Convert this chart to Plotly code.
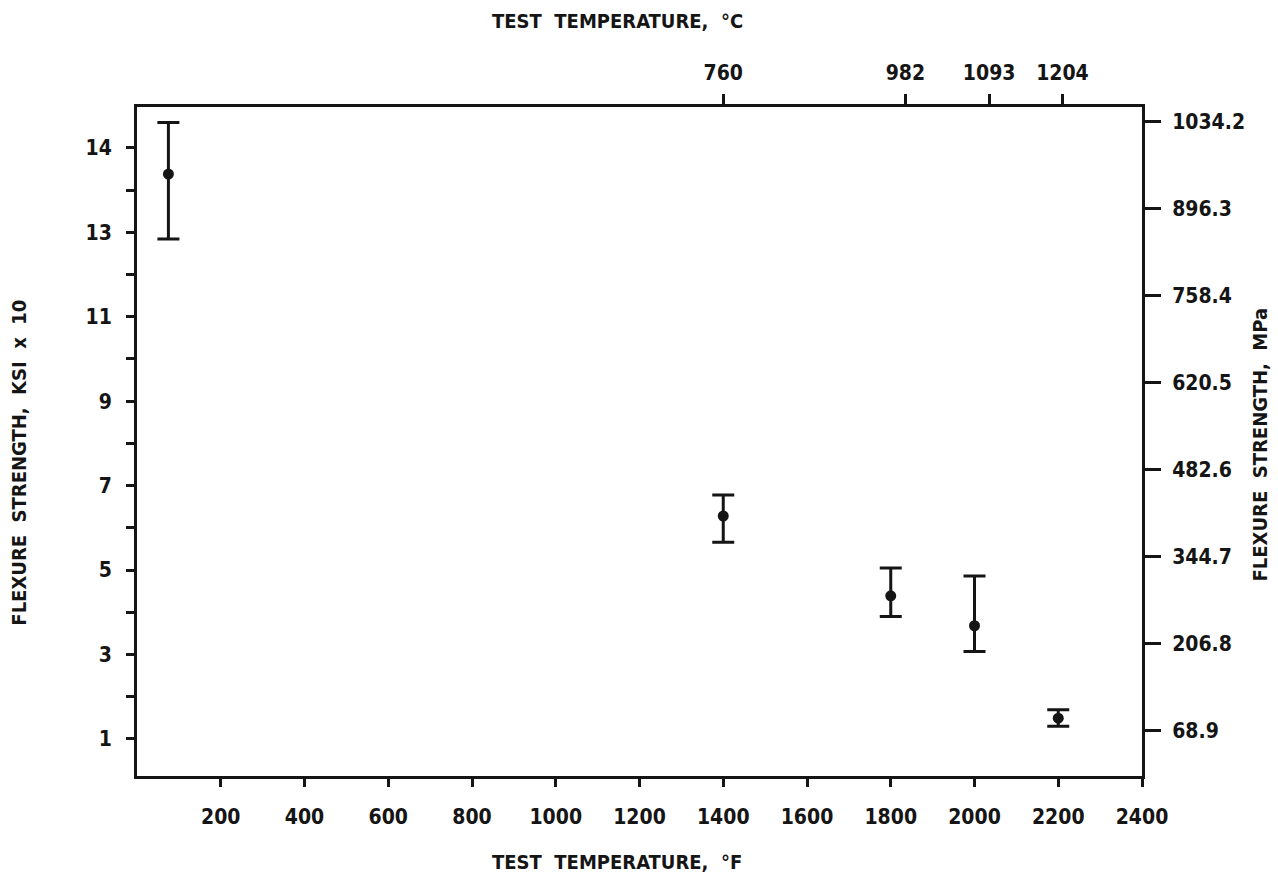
import plotly.graph_objects as go

# ---- data ----
temp_F = [75, 1400, 1800, 2000, 2200]
strength_mean = [14.38, 6.28, 4.39, 3.68, 1.49]     # KSI x 10 (axis labels as printed)
strength_high = [15.60, 6.78, 5.05, 4.86, 1.69]
strength_low = [12.84, 5.66, 3.90, 3.07, 1.30]

x_ticks = [200, 400, 600, 800, 1000, 1200, 1400, 1600, 1800, 2000, 2200, 2400]
left_tickvals = [1, 3, 5, 7, 9, 11, 13, 15]
left_ticktext = ["1", "3", "5", "7", "9", "11", "13", "14"]
left_minor = [2, 4, 6, 8, 10, 12, 14]
right_tickvals = [68.9, 206.8, 344.7, 482.6, 620.5, 758.4, 896.3, 1034.2]
right_ticktext = ["68.9", "206.8", "344.7", "482.6", "620.5", "758.4", "896.3", "1034.2"]
top_tick_pos_F = [1400, 1835, 2035, 2210]
top_ticktext = ["760", "982", "1093", "1204"]

FAMILY = "Liberation Sans Narrow, DejaVu Sans Condensed, Arial Narrow, sans-serif"
INK = "#151515"
tickfont = dict(family=FAMILY, size=21, color=INK, weight="bold")
titlefont = dict(family=FAMILY, size=20, color=INK, weight="bold")

err_plus = [h - m for h, m in zip(strength_high, strength_mean)]
err_minus = [m - l for m, l in zip(strength_mean, strength_low)]

fig = go.Figure()
fig.add_trace(go.Scatter(
    x=temp_F, y=strength_mean, mode="markers",
    marker=dict(color=INK, size=11),
    error_y=dict(type="data", symmetric=False, array=err_plus, arrayminus=err_minus,
                 color=INK, thickness=3, width=11),
    showlegend=False, xaxis="x", yaxis="y",
))
# invisible traces to activate the secondary axes
fig.add_trace(go.Scatter(x=[None], y=[None], xaxis="x2", yaxis="y", showlegend=False))
fig.add_trace(go.Scatter(x=[None], y=[None], xaxis="x", yaxis="y2", showlegend=False))

axis_common = dict(showgrid=False, zeroline=False, showline=True, linecolor=INK,
                   linewidth=3, tickcolor=INK, tickwidth=3, ticks="outside",
                   tickfont=tickfont)

fig.update_layout(
    width=1278, height=879,
    margin=dict(l=137, r=136, t=107, b=103),
    paper_bgcolor="white", plot_bgcolor="white",
    xaxis=dict(range=[0, 2400], tickvals=x_ticks, ticklen=8, ticklabelstandoff=12,
               **axis_common),
    xaxis2=dict(range=[0, 2400], overlaying="x", side="top", tickvals=top_tick_pos_F,
                ticktext=top_ticktext, ticklen=10, ticklabelstandoff=6, **axis_common),
    yaxis=dict(range=[0.12, 15.97], tickvals=left_tickvals, ticktext=left_ticktext,
               ticklen=8, ticklabelstandoff=10,
               minor=dict(tickvals=left_minor, ticklen=8, ticks="outside",
                          tickcolor=INK, tickwidth=3),
               **axis_common),
    yaxis2=dict(range=[-3.1, 1057.3], overlaying="y", side="right",
                tickvals=right_tickvals, ticktext=right_ticktext, ticklen=16,
                ticklabelstandoff=7, **axis_common),
    annotations=[
        dict(text="TEST  TEMPERATURE,  \u00b0C", xref="paper", yref="paper",
             x=0.478, y=1.1286, showarrow=False, font=titlefont,
             xanchor="center", yanchor="middle"),
        dict(text="TEST  TEMPERATURE,  \u00b0F", xref="paper", yref="paper",
             x=0.478, y=-0.1286, showarrow=False, font=titlefont,
             xanchor="center", yanchor="middle"),
        dict(text="FLEXURE  STRENGTH,  KSI  x  10", xref="paper", yref="paper",
             x=-0.117, y=0.469, showarrow=False, font=titlefont, textangle=-90,
             xanchor="center", yanchor="middle"),
        dict(text="FLEXURE  STRENGTH,  MPa", xref="paper", yref="paper",
             x=1.117, y=0.495, showarrow=False, font=titlefont, textangle=-90,
             xanchor="center", yanchor="middle"),
    ],
)

fig.write_html("out.html")
